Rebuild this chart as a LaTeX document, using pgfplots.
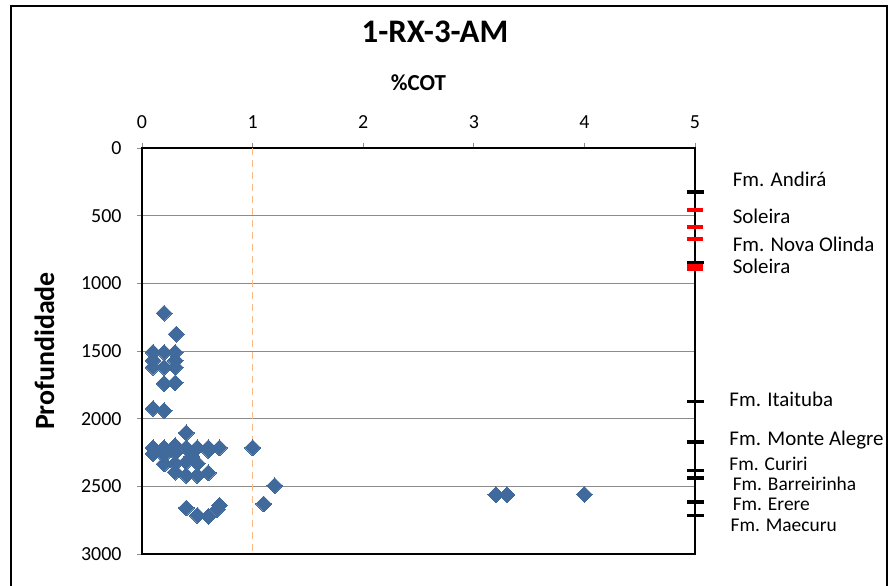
\documentclass[border=0pt]{standalone}
\usepackage{pgfplots}
\pgfplotsset{compat=1.18}
\usepackage{fontspec}
\setmainfont{Carlito}
\definecolor{cotblue}{HTML}{40699C}
\definecolor{limite}{HTML}{F9BC8A}
\definecolor{gridgray}{HTML}{8C8C8C}
\tikzset{lbl/.style={font=\fontsize{21}{24}\selectfont, anchor=west, inner sep=0pt},
  lbls/.style={font=\fontsize{19.5}{22}\selectfont, anchor=west, inner sep=0pt}}

\begin{document}
\begin{tikzpicture}
\useasboundingbox (-142bp,-32bp) rectangle (752bp,554bp);
% moldura externa da area do grafico
\draw[line width=1.6bp] (-131bp,-32bp) -- (-131bp,548bp) -- (745bp,548bp) -- (745bp,-32bp);
\node[font=\bfseries\fontsize{33}{36}\selectfont] at (293bp,522bp) {1-RX-3-AM};
\begin{axis}[
  at={(0,0)}, anchor=south west,
  width=553bp, height=406bp, scale only axis,
  xmin=0, xmax=5, ymin=0, ymax=3000,
  y dir=reverse,
  xtick={0,1,2,3,4,5}, ytick={0,500,...,3000},
  xticklabel pos=right, xtick pos=right, ytick pos=left,
  tick align=outside,
  major tick length=5bp,
  tick style={gridgray, line width=0.6bp},
  ymajorgrids, grid style={gridgray, line width=0.9bp},
  axis line style={line width=2.6bp},
  ticklabel style={font=\fontsize{20}{24}\selectfont},
  /pgf/number format/assume math mode=true,
  /pgf/number format/1000 sep={},
  xticklabel style={yshift=11bp},
  yticklabel style={xshift=-12bp},
  xlabel={\%COT},
  xlabel style={font=\bfseries\fontsize{23}{26}\selectfont, yshift=18bp},
  ylabel={Profundidade},
  ylabel style={font=\bfseries\fontsize{28}{30}\selectfont, yshift=20bp},
  clip=false,
]
% limite de 1% COT
\addplot[limite, line width=1.6bp, dash pattern=on 7bp off 5bp] coordinates {(1,0) (1,3000)};
% amostras
\addplot[only marks, mark=square*, mark size=5.6bp,
  mark options={rotate=45, fill=cotblue, draw=cotblue, line width=0pt}] coordinates {
  (0.20,1220) (0.31,1375)
  (0.10,1510) (0.20,1510) (0.30,1510)
  (0.10,1570) (0.30,1570)
  (0.10,1620) (0.20,1620) (0.30,1620)
  (0.20,1740) (0.30,1735)
  (0.10,1925) (0.20,1940)
  (0.40,2105)
  (0.10,2215) (0.20,2215) (0.30,2200) (0.40,2215) (0.50,2215) (0.60,2215) (0.70,2215)
  (0.10,2260) (0.20,2270) (0.30,2250) (0.45,2280) (0.60,2235)
  (0.20,2335) (0.30,2330) (0.40,2320) (0.50,2330)
  (0.30,2395) (0.40,2420) (0.50,2420) (0.60,2400)
  (1.00,2215) (1.20,2495) (1.10,2630)
  (0.40,2660) (0.50,2715) (0.60,2722) (0.68,2670) (0.70,2640)
  (3.20,2562) (3.30,2562) (4.00,2560)
};
% topos das formacoes
\addplot[only marks, mark=-, mark size=8.5bp, mark options={line width=3.6bp, black}] coordinates {
  (5,327) (5,845) (5,1872) (5,2172) (5,2384) (5,2440) (5,2615) (5,2716)
};
% soleiras
\addplot[only marks, mark=-, mark size=8bp, mark options={line width=3.4bp, red}] coordinates {
  (5,458) (5,585) (5,672) (5,866) (5,893)
};
\node[lbl] at (axis cs:5.34,229) {Fm. Andirá};
\node[lbl] at (axis cs:5.34,503) {Soleira};
\node[lbl] at (axis cs:5.34,709) {Fm. Nova Olinda};
\node[lbl] at (axis cs:5.34,872) {Soleira};
\node[lbl] at (axis cs:5.31,1855) {Fm. Itaituba};
\node[lbl] at (axis cs:5.31,2158) {Fm. Monte Alegre};
\node[lbls] at (axis cs:5.31,2335) {Fm. Curiri};
\node[lbls] at (axis cs:5.34,2482) {Fm. Barreirinha};
\node[lbls] at (axis cs:5.34,2630) {Fm. Erere};
\node[lbls] at (axis cs:5.32,2785) {Fm. Maecuru};
\end{axis}
\end{tikzpicture}
\end{document}
